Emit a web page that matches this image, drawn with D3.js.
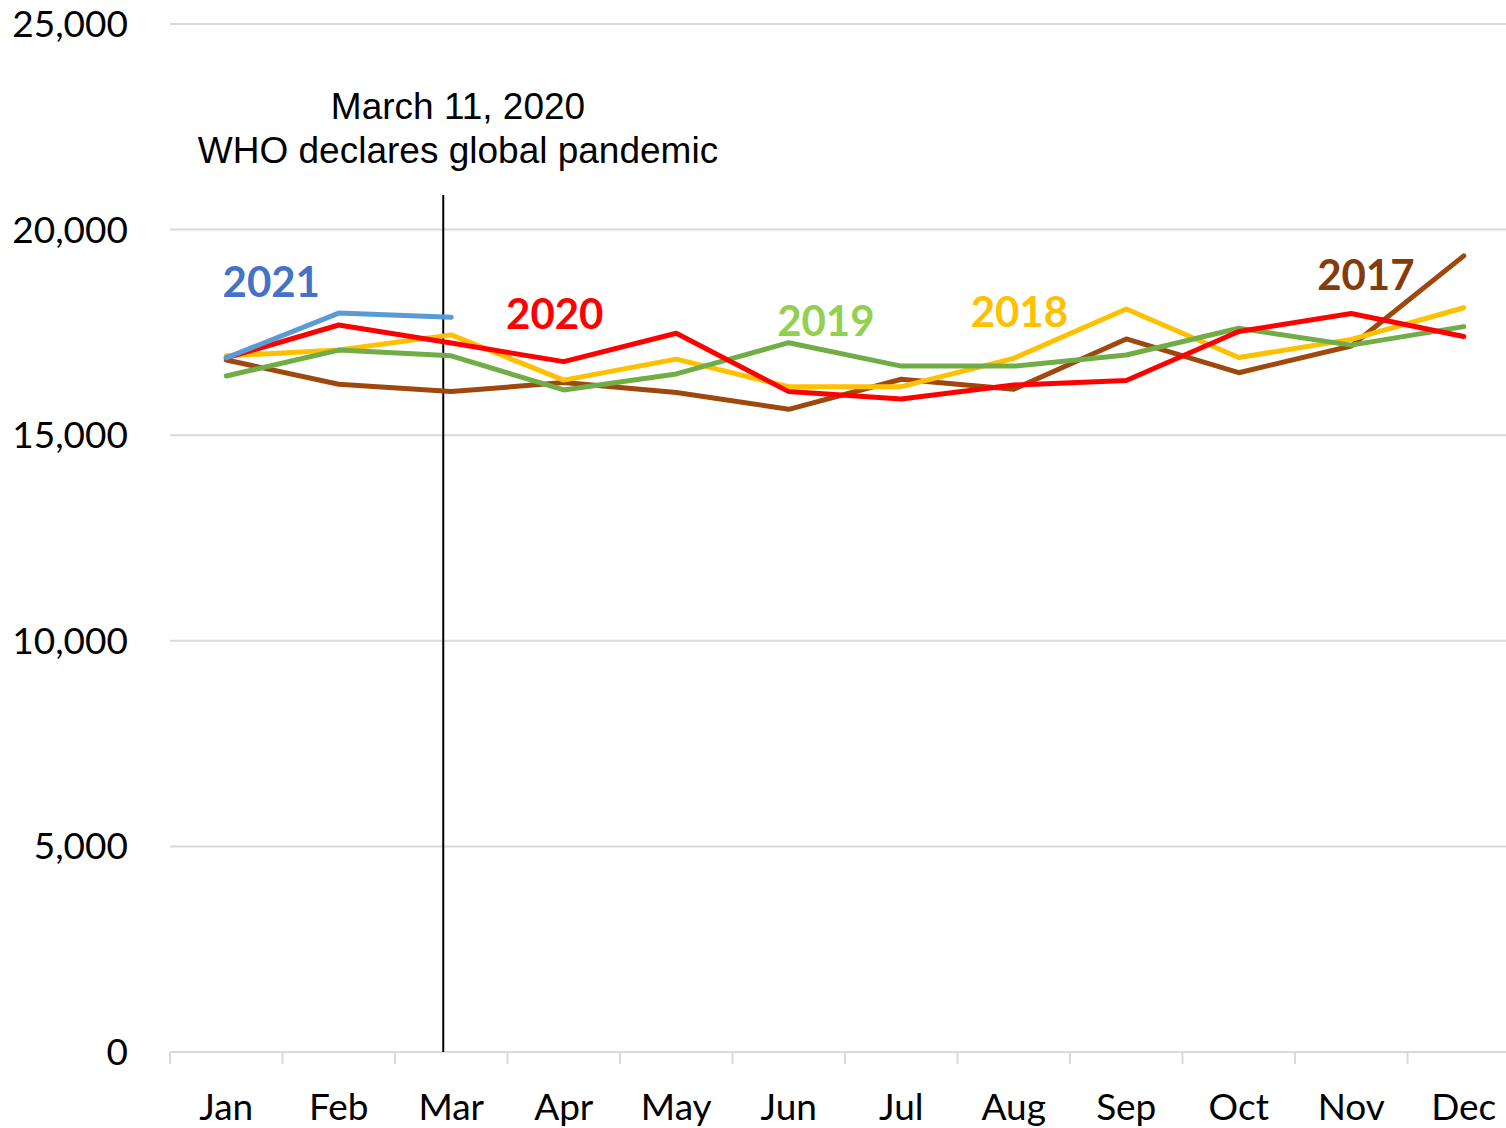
<!DOCTYPE html>
<html>
<head>
<meta charset="utf-8">
<script src="https://cdn.jsdelivr.net/npm/d3@7"></script>
<style>
  body { margin: 0; background: #fff; }
  svg { display: block; }
</style>
</head>
<body>
<script>
var width = 1506, height = 1128;
var margin = { top: 24, right: -14, bottom: 76, left: 170 };

var months = ["Jan","Feb","Mar","Apr","May","Jun","Jul","Aug","Sep","Oct","Nov","Dec"];
var yTicks = [0, 5000, 10000, 15000, 20000, 25000];

var y2021 = [16880, 17970, 17870];
var y2020 = [16880, 17680, 17240, 16790, 17480, 16060, 15880, 16220, 16330, 17520, 17960, 17400];
var y2019 = [16440, 17070, 16930, 16100, 16490, 17250, 16680, 16680, 16950, 17600, 17190, 17640];
var y2018 = [16930, 17070, 17440, 16340, 16850, 16180, 16180, 16870, 18070, 16890, 17330, 18100];
var y2017 = [16830, 16240, 16060, 16280, 16040, 15630, 16360, 16120, 17340, 16520, 17170, 19360];

// label placement in data units (month index offset, value)
var series = [
  { name: "2017", values: y2017, color: "#9E480E", label: "#843C0C", lx: 10.13, ly: 18900 },
  { name: "2018", values: y2018, color: "#FFC000", label: "#FFC000", lx: 7.05, ly: 18000 },
  { name: "2019", values: y2019, color: "#70AD47", label: "#92D050", lx: 5.33, ly: 17780 },
  { name: "2020", values: y2020, color: "#FF0000", label: "#FF0000", lx: 2.92, ly: 17930 },
  { name: "2021", values: y2021, color: "#5B9BD5", label: "#4472C4", lx: 0.4, ly: 18730 }
];

var x = d3.scaleBand().domain(months).range([margin.left, width - margin.right]);
var y = d3.scaleLinear().domain([0, 25000]).range([height - margin.bottom, margin.top]);

function xc(i) { return x.range()[0] + (i + 0.5) * x.step(); }

var svg = d3.select("body").append("svg")
  .attr("width", width).attr("height", height);

// gridlines
svg.append("g").selectAll("line")
  .data(yTicks.filter(function(d) { return d > 0; }))
  .enter().append("line")
  .attr("x1", margin.left).attr("x2", width)
  .attr("y1", function(d) { return y(d); }).attr("y2", function(d) { return y(d); })
  .attr("stroke", "#d9d9d9").attr("stroke-width", 2);

// y labels
svg.append("g").selectAll("text")
  .data(yTicks)
  .enter().append("text")
  .attr("x", 128)
  .attr("y", function(d) { return y(d); })
  .attr("dy", "0.35em")
  .attr("text-anchor", "end")
  .attr("font-family", "Lato, 'Open Sans', sans-serif")
  .attr("font-size", 37)
  .attr("fill", "#000")
  .text(function(d) { return d3.format(",")(d); });

// x axis
var xAxis = svg.append("g")
  .attr("transform", "translate(0," + y(0) + ")")
  .call(d3.axisBottom(x).tickSize(0).tickPadding(42));
xAxis.select(".domain").attr("stroke", "#d9d9d9").attr("stroke-width", 2)
  .attr("d", "M" + margin.left + ",0H" + width);
xAxis.selectAll("text")
  .attr("font-family", "Lato, 'Open Sans', sans-serif")
  .attr("font-size", 37).attr("fill", "#000");
xAxis.selectAll(".boundary")
  .data(d3.range(months.length + 1))
  .enter().append("line")
  .attr("class", "boundary")
  .attr("x1", function(i) { return x.range()[0] + i * x.step(); })
  .attr("x2", function(i) { return x.range()[0] + i * x.step(); })
  .attr("y1", 0).attr("y2", 12)
  .attr("stroke", "#d9d9d9").attr("stroke-width", 2);

// pandemic marker (March 11)
var mx = xc(2) - 8;
svg.append("line")
  .attr("x1", mx).attr("x2", mx)
  .attr("y1", 195).attr("y2", y(0))
  .attr("stroke", "#000").attr("stroke-width", 2);
var ann = svg.append("text")
  .attr("text-anchor", "middle")
  .attr("font-family", "'Liberation Sans', Arial, sans-serif")
  .attr("font-size", 37)
  .attr("fill", "#000");
ann.append("tspan").attr("x", 458).attr("y", 119).text("March 11, 2020");
ann.append("tspan").attr("x", 458).attr("y", 163).text("WHO declares global pandemic");

// lines
var line = d3.line()
  .x(function(d, i) { return xc(i); })
  .y(function(d) { return y(d); });

svg.append("g").selectAll("path")
  .data(series)
  .enter().append("path")
  .attr("d", function(d) { return line(d.values); })
  .attr("fill", "none")
  .attr("stroke", function(d) { return d.color; })
  .attr("stroke-width", 5)
  .attr("stroke-linejoin", "round")
  .attr("stroke-linecap", "round");

// year labels
svg.append("g").selectAll("text")
  .data(series)
  .enter().append("text")
  .attr("x", function(d) { return xc(d.lx); })
  .attr("y", function(d) { return y(d.ly); })
  .attr("dy", "0.35em")
  .attr("text-anchor", "middle")
  .attr("font-family", "Lato, 'Open Sans', sans-serif")
  .attr("font-weight", "bold")
  .attr("font-size", 42)
  .attr("fill", function(d) { return d.label; })
  .text(function(d) { return d.name; });
</script>
</body>
</html>
